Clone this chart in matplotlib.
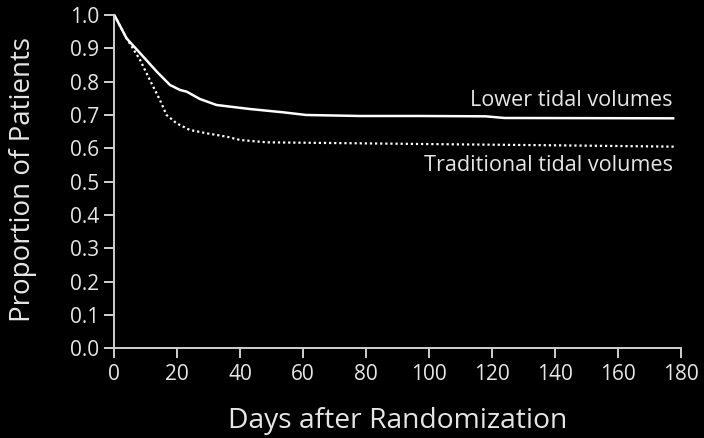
import matplotlib
matplotlib.use("Agg")
import matplotlib.pyplot as plt

plt.rcParams['font.family'] = ['Open Sans', 'DejaVu Sans']

# Data
lower_days = [0, 3.9, 9.2, 13.5, 17.7, 20.9, 23, 27.2, 32.5, 43, 53.7, 61, 78, 97, 118, 124, 178]
lower_vals = [1.0, 0.93, 0.875, 0.83, 0.79, 0.775, 0.77, 0.748, 0.73, 0.718, 0.708, 0.700, 0.697, 0.697, 0.696, 0.691, 0.690]

trad_days = [0, 3.9, 8.2, 11.3, 14.5, 16.6, 19.8, 24, 29.4, 35.7, 40, 48.4, 78, 97, 140, 178]
trad_vals = [1.0, 0.93, 0.865, 0.805, 0.745, 0.70, 0.675, 0.655, 0.645, 0.635, 0.625, 0.618, 0.615, 0.613, 0.609, 0.605]

x_ticks = [0, 20, 40, 60, 80, 100, 120, 140, 160, 180]
y_ticks = [0.0, 0.1, 0.2, 0.3, 0.4, 0.5, 0.6, 0.7, 0.8, 0.9, 1.0]
y_tick_labels = [f"{v:.1f}" for v in y_ticks]

lower_label = "Lower tidal volumes"
trad_label = "Traditional tidal volumes"

txt = '#e6e6e6'
W, H = 704, 438
fig = plt.figure(figsize=(W / 100, H / 100), dpi=100, facecolor='black')
ax = fig.add_axes([114.3 / W, 1 - 348.3 / H, (680.7 - 114.3) / W, (348.3 - 15) / H])
ax.set_facecolor('black')

ax.plot(lower_days, lower_vals, color='white', lw=1.8, clip_on=False, solid_capstyle='butt')
ax.plot(trad_days, trad_vals, color='white', lw=1.6, linestyle=(0, (1, 1.3)), clip_on=False)

ax.set_xlim(0, 180)
ax.set_ylim(0, 1.0)
ax.set_xticks(x_ticks)
ax.set_yticks(y_ticks)
ax.set_yticklabels(y_tick_labels)

for s in ['top', 'right']:
    ax.spines[s].set_visible(False)
for s in ['left', 'bottom']:
    ax.spines[s].set_color('#d0d0d0')
    ax.spines[s].set_linewidth(1.4)

ax.tick_params(axis='both', colors='#d0d0d0', labelcolor=txt, length=7, width=1.4,
               labelsize=15)
ax.tick_params(axis='x', pad=4)
ax.tick_params(axis='y', pad=4)

fig.text(397.5 / W, 1 - 428.3 / H, "Days after Randomization", color=txt, fontsize=20.3,
         ha='center', va='baseline')
fig.text(23.5 / W, 1 - 179.2 / H, "Proportion of Patients", color=txt, fontsize=20,
         ha='center', va='center', rotation=90)

ax.text(177.5, 0.727, lower_label, color=txt, fontsize=15.6, ha='right', va='baseline')
ax.text(177.5, 0.533, trad_label, color=txt, fontsize=15.6, ha='right', va='baseline')

fig.savefig("out.png", dpi=100, facecolor='black')
